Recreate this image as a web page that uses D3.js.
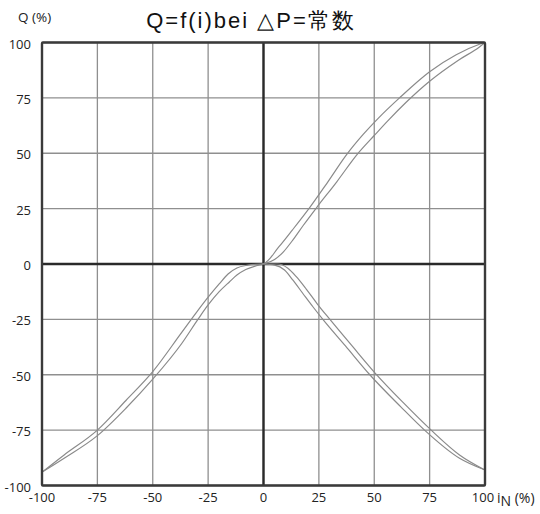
<!DOCTYPE html>
<html><head><meta charset="utf-8">
<script src="https://cdn.jsdelivr.net/npm/d3@7"></script>
<style>html,body{margin:0;padding:0;background:#fff;}svg{display:block;}</style>
</head><body>
<svg id="c" width="540" height="514"></svg>
<script>
const xTicks = [-100,-75,-50,-25,0,25,50,75,100];
const yTicks = [-100,-75,-50,-25,0,25,50,75,100];
const titleText = "Q=f(i)bei \u25B3P=常数";
const yAxisLabel = "Q (%)";

// Rising curve, upper-left line
const rise1X = [-100,-90,-75,-62,-50,-37,-30,-25,-20,-16,-12,-7,0,7,13,20.5,29,37.6,45,52,61.4,75,87,97.5,100];
const rise1Y = [-94,-86.2,-75,-61.5,-48.6,-31,-21.5,-15,-9,-4.5,-1.8,-0.5,0.2,7.8,15.3,25,37,49.5,58.5,66,75,86.8,94.5,99.2,100];
// Rising curve, lower-right line
const rise2X = [-100,-90,-75,-62,-50,-37,-29.6,-25,-20,-15.3,-12,-8,-3.3,0,5,9,13,18,24,33,42.3,50,56,64.4,75,88,97.5,100];
const rise2Y = [-94,-87.7,-77.5,-65,-52,-36,-25,-18.5,-12.5,-8,-5,-2.5,-0.8,0,2,5.5,10.5,17.5,25.5,37,49.5,58,64.5,73,82.5,92,98,100];
// Falling curve, left line
const fall1X = [0,5,9.5,13.2,17.7,22.3,26.8,37,48,62,72.7,88.5,100];
const fall1Y = [0,-0.5,-2.7,-7.2,-13.2,-19.3,-25,-37,-50,-64.5,-75,-87.7,-93];
// Falling curve, right line
const fall2X = [0,6.5,11,14.8,19.3,24.5,29.8,40,50.9,63,75.7,88.5,100];
const fall2Y = [0,0,-1.9,-5.7,-11.3,-18.3,-24.8,-37,-49.8,-62.5,-75,-86.2,-93];

const svg = d3.select("#c");
const x = d3.scaleLinear().domain([-100,100]).range([42,485]);
const y = d3.scaleLinear().domain([-100,100]).range([485.5,42.5]);

// grid
const grid = svg.append("g");
grid.selectAll("line.v").data(xTicks).enter().append("line")
  .attr("x1", d=>x(d)).attr("x2", d=>x(d)).attr("y1", y(100)).attr("y2", y(-100))
  .attr("stroke", "#8f8f8f").attr("stroke-width", 1.3);
grid.selectAll("line.h").data(yTicks).enter().append("line")
  .attr("y1", d=>y(d)).attr("y2", d=>y(d)).attr("x1", x(-100)).attr("x2", x(100))
  .attr("stroke", "#8f8f8f").attr("stroke-width", 1.3);

// zero axes
svg.append("line").attr("x1", x(0)).attr("x2", x(0)).attr("y1", y(100)).attr("y2", y(-100))
  .attr("stroke", "#2a2a2a").attr("stroke-width", 2.4);
svg.append("line").attr("y1", y(0)).attr("y2", y(0)).attr("x1", x(-100)).attr("x2", x(100))
  .attr("stroke", "#2a2a2a").attr("stroke-width", 2.4);

// curves
const lineGen = d3.line().x(d=>x(d[0])).y(d=>y(d[1])).curve(d3.curveMonotoneX);
const series = [[rise1X,rise1Y],[rise2X,rise2Y],[fall1X,fall1Y],[fall2X,fall2Y]];
series.forEach(([xs,ys])=>{
  svg.append("path").datum(xs.map((v,i)=>[v,ys[i]]))
    .attr("d", lineGen).attr("fill","none").attr("stroke","#8a8a8a").attr("stroke-width",1.2);
});

// border
svg.append("rect").attr("x", x(-100)).attr("y", y(100))
  .attr("width", x(100)-x(-100)).attr("height", y(-100)-y(100))
  .attr("fill","none").attr("stroke","#3a3a3a").attr("stroke-width",2.4).attr("rx",1);

// y tick labels
svg.append("g").selectAll("text").data(yTicks).enter().append("text")
  .attr("x", 31).attr("y", d=>y(d)+1).attr("text-anchor","end").attr("dominant-baseline","central")
  .attr("font-family","'Open Sans', sans-serif").attr("font-size",13).attr("fill","#222")
  .text(d=>d);

// x tick labels
svg.append("g").selectAll("text").data(xTicks).enter().append("text")
  .attr("x", d=>x(d)+(d===100?-2:0)).attr("y", 502).attr("text-anchor","middle")
  .attr("font-family","'Open Sans', sans-serif").attr("font-size",13).attr("fill","#222")
  .text(d=>d);

// x axis label
const xl = svg.append("text").attr("x", 497).attr("y", 503)
  .attr("font-family","'Open Sans', sans-serif").attr("font-size",14).attr("fill","#222");
xl.append("tspan").text("i");
xl.append("tspan").attr("dy",3).text("N");
xl.append("tspan").attr("dy",-3).text(" (%)");

// y axis label
svg.append("text").attr("x", 18).attr("y", 22)
  .attr("font-family","'Open Sans', sans-serif").attr("font-size",13.5).attr("fill","#222")
  .text(yAxisLabel);

// title
svg.append("text").attr("x", 251).attr("y", 28).attr("text-anchor","middle")
  .attr("font-family","'Liberation Sans', Arial, sans-serif").attr("font-size",22)
  .attr("letter-spacing","2px").attr("fill","#111")
  .text(titleText);
</script>
</body></html>
